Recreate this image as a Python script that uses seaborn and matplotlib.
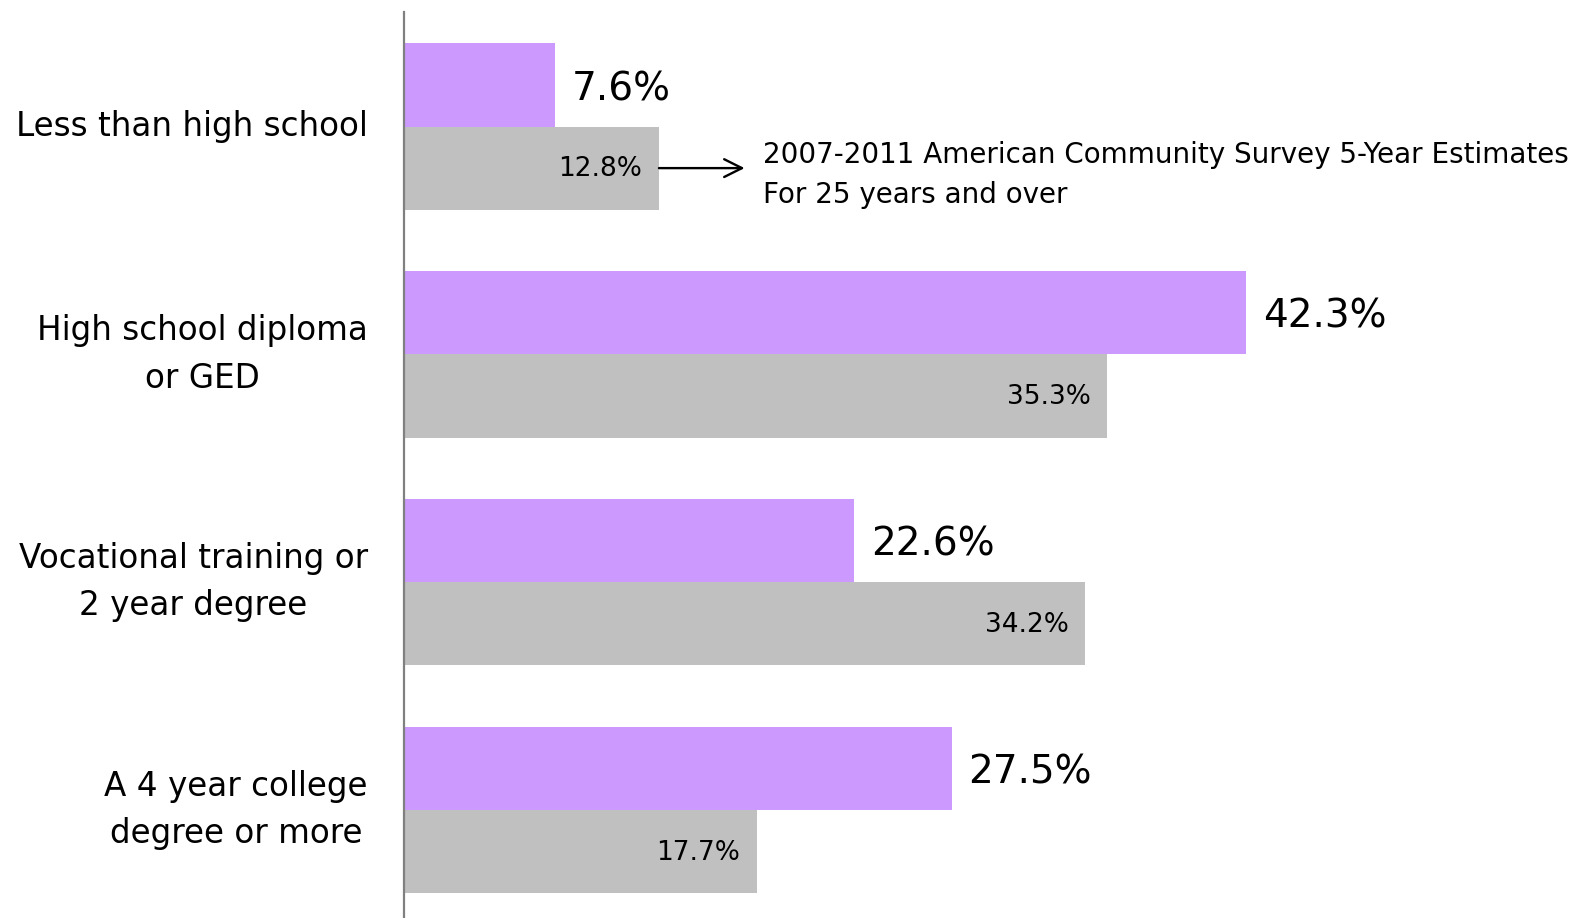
import matplotlib
matplotlib.use("Agg")
import matplotlib.pyplot as plt
import seaborn as sns
import pandas as pd

# data
categories = ["Less than high school",
              "High school diploma\nor GED",
              "Vocational training or\n2 year degree",
              "A 4 year college\ndegree or more"]
series = ["Survey", "ACS 2007-2011"]
survey_vals = [7.6, 42.3, 22.6, 27.5]
acs_vals = [12.8, 35.3, 34.2, 17.7]
colors = ["#CC99FF", "#C0C0C0"]
note = "2007-2011 American Community Survey 5-Year Estimates\nFor 25 years and over"

df = pd.DataFrame({
    "category": categories * 2,
    "series": [series[0]] * 4 + [series[1]] * 4,
    "value": survey_vals + acs_vals,
})

sns.set_style("white")
plt.rcParams["font.family"] = ["DejaVu Sans"]
plt.rcParams["text.color"] = "black"
plt.rcParams["ytick.color"] = "black"

fig = plt.figure(figsize=(15.87, 9.18), dpi=100)
ax = fig.add_axes([0.2546, 0.0, 0.7454, 0.987])

sns.barplot(data=df, y="category", x="value", hue="series", orient="h",
            palette=colors, saturation=1, width=0.73, linewidth=0,
            legend=False, ax=ax)

ax.set_xlim(0, 59.4)
ax.set_ylim(3.474, -0.503)
ax.set_xlabel("")
ax.set_ylabel("")
ax.set_xticks([])
for s in ["top", "right", "bottom"]:
    ax.spines[s].set_visible(False)
ax.spines["left"].set_color("#808080")
ax.spines["left"].set_linewidth(1.6)

ax.tick_params(axis="y", length=0, pad=26, labelcolor="black")
for lbl in ax.get_yticklabels():
    lbl.set_fontsize(23.5)
    lbl.set_multialignment("center")
    lbl.set_horizontalalignment("right")
    lbl.set_verticalalignment("center")
    lbl.set_linespacing(1.55)

# value labels
for bar, v in zip(ax.containers[0], survey_vals):
    ax.annotate(f"{v}%", (bar.get_width(), bar.get_y() + bar.get_height() / 2),
                xytext=(12, -3), textcoords="offset points",
                ha="left", va="center", fontsize=28, color="black")
for bar, v in zip(ax.containers[1], acs_vals):
    ax.annotate(f"{v}%", (bar.get_width(), bar.get_y() + bar.get_height() / 2),
                xytext=(-12, -1), textcoords="offset points",
                ha="right", va="center", fontsize=19, color="black")

# source note with arrow
b0 = ax.containers[1][0]
yc = b0.get_y() + b0.get_height() / 2
ax.annotate("", xy=(17.1, yc), xytext=(b0.get_width(), yc),
            arrowprops=dict(arrowstyle="->", color="black", lw=1.7,
                            mutation_scale=32, shrinkA=0, shrinkB=0))
ax.text(18.0, yc + 0.03, note, ha="left", va="center", fontsize=20,
        linespacing=1.55, color="black")

fig.savefig("out.png", dpi=100)
